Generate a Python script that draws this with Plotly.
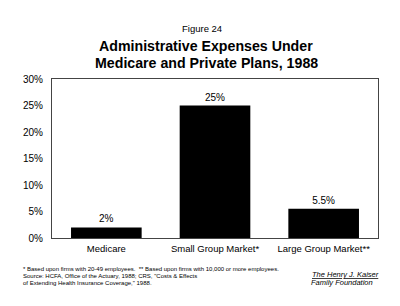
import plotly.graph_objects as go

categories = ["Medicare", "Small Group Market*", "Large Group Market**"]
values = [2, 25, 5.5]
value_labels = ["2%", "25%", "5.5%"]
tick_vals = [0, 5, 10, 15, 20, 25, 30]
tick_text = ["0%", "5%", "10%", "15%", "20%", "25%", "30%"]

FONT = "Liberation Sans, Arial, sans-serif"
L, R, T, B = 52, 22, 79, 68
W, H = 400, 306
PW, PH = W - L - R, H - T - B

fig = go.Figure(go.Bar(
    x=categories, y=values, text=value_labels, textposition="outside",
    textfont=dict(size=10, color="black", family=FONT),
    marker=dict(color="black", line=dict(width=0)),
    cliponaxis=False,
))

fig.update_layout(
    width=W, height=H,
    margin=dict(l=L, r=R, t=T, b=B),
    paper_bgcolor="white", plot_bgcolor="white",
    font=dict(family=FONT, color="black"),
    bargap=0.35, showlegend=False,
)
fig.update_xaxes(showline=True, linecolor="#444", linewidth=1, mirror=True,
                 ticks="", tickfont=dict(size=9.5), ticklabelstandoff=2)
fig.update_yaxes(range=[0, 30], tickvals=tick_vals, ticktext=tick_text,
                 showgrid=False, zeroline=False, showline=True, linecolor="#444",
                 linewidth=1, mirror=True, ticks="", tickfont=dict(size=10),
                 ticklabelstandoff=6)

ann = []
def add(text, x, y, size, xanchor="center", bold=False, italic=False, under=False):
    f = dict(size=size, family=FONT, color="black")
    if under:
        f["lineposition"] = "under"
    if bold:
        text = "<b>" + text + "</b>"
    if italic:
        text = "<i>" + text + "</i>"
    ann.append(dict(text=text, x=(x - L) / PW, y=(H - B - y) / PH,
                    xref="paper", yref="paper",
                    xanchor=xanchor, yanchor="middle", showarrow=False, font=f))

add("Figure 24", 202, 28, 9.5)
add("Administrative Expenses Under", 206, 46, 14.2, bold=True)
add("Medicare and Private Plans, 1988", 206, 63, 14.2, bold=True)
add("* Based upon firms with 20-49 employees.  ** Based upon firms with 10,000 or more employees.", 21, 269, 6, xanchor="left")
add("Source: HCFA, Office of the Actuary, 1988; CRS, \"Costs & Effects", 21, 276, 6, xanchor="left")
add("of Extending Health Insurance Coverage,\" 1988.", 21, 282.5, 6, xanchor="left")
add("The Henry J. Kaiser", 345, 274, 7.5, italic=True, under=True)
add("Family Foundation", 342, 282.5, 7.5, italic=True)

fig.update_layout(annotations=ann)
fig.write_html("out.html")
